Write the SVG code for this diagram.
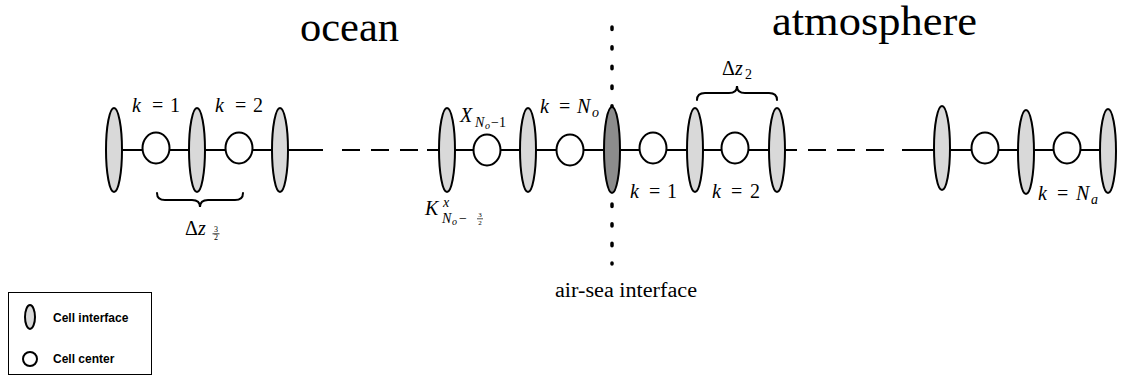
<svg xmlns="http://www.w3.org/2000/svg" width="1127" height="376" viewBox="0 0 1127 376">
<style>
.iface{fill:#d9d9d9;stroke:#000;stroke-width:2}
.dark{fill:#8c8c8c;stroke:#000;stroke-width:2}
.ctr{fill:#fff;stroke:#000;stroke-width:2}
.ln{stroke:#000;stroke-width:2;fill:none}
.dash{stroke:#000;stroke-width:2;fill:none;stroke-dasharray:18 11}
.brace{stroke:#000;stroke-width:2;fill:none;stroke-linecap:round}
.big{font-family:"Liberation Serif",serif;font-size:42px;fill:#000}
.m{font-family:"Liberation Serif",serif;font-size:20px;fill:#000}
.i{font-style:italic}
.s{font-size:14px}
.ss{font-size:10px}
.fr{font-size:8px}
.fr7{font-size:7px}
.lg{font-family:"Liberation Sans",Arial,sans-serif;font-size:12px;font-weight:bold;fill:#000}
</style>
<rect width="1127" height="376" fill="#fff"/>
<g id="connectors">
<line class="ln" x1="114" y1="150" x2="323" y2="150"/>
<line class="dash" x1="342" y1="150" x2="418" y2="150"/>
<line class="ln" x1="427" y1="150" x2="797" y2="150"/>
<line class="dash" x1="808" y1="150" x2="884" y2="150"/>
<line class="ln" x1="902" y1="150" x2="1108" y2="150"/>
<line x1="612" y1="27" x2="612" y2="264" stroke="#000" stroke-width="3.5" stroke-linecap="round" stroke-dasharray="2.4 17.27"/>
</g>
<g id="ocean-interfaces">
<ellipse id="oi1" class="iface" cx="114" cy="150" rx="8" ry="42"/>
<ellipse id="oi2" class="iface" cx="197" cy="150" rx="8" ry="42"/>
<ellipse id="oi3" class="iface" cx="280" cy="150" rx="8" ry="42"/>
<ellipse id="oi4" class="iface" cx="447" cy="150" rx="8" ry="42"/>
<ellipse id="oi5" class="iface" cx="528" cy="150" rx="8" ry="42"/>
</g>
<g id="air-sea"><ellipse class="dark" cx="612" cy="150" rx="8" ry="43"/></g>
<g id="atm-interfaces">
<ellipse id="ai1" class="iface" cx="695" cy="150" rx="8" ry="42"/>
<ellipse id="ai2" class="iface" cx="777" cy="150" rx="8" ry="42"/>
<ellipse id="ai3" class="iface" cx="942" cy="148" rx="8" ry="42"/>
<ellipse id="ai4" class="iface" cx="1026" cy="152" rx="8" ry="42"/>
<ellipse id="ai5" class="iface" cx="1108" cy="151" rx="8" ry="42"/>
</g>
<g id="centers">
<ellipse id="c1" class="ctr" cx="156" cy="148" rx="13.5" ry="15.5"/>
<ellipse id="c2" class="ctr" cx="239" cy="148" rx="13.5" ry="15.5"/>
<ellipse id="c3" class="ctr" cx="487" cy="150" rx="13.5" ry="15.5"/>
<ellipse id="c4" class="ctr" cx="570" cy="150" rx="13.5" ry="15.5"/>
<ellipse id="c5" class="ctr" cx="653" cy="148" rx="13.5" ry="15.5"/>
<ellipse id="c6" class="ctr" cx="735" cy="148" rx="13.5" ry="15.5"/>
<ellipse id="c7" class="ctr" cx="985" cy="148" rx="13.5" ry="15.5"/>
<ellipse id="c8" class="ctr" cx="1067" cy="148" rx="13.5" ry="15.5"/>
</g>
<g id="braces">
<path class="brace" d="M157,193 Q157,200 165,200 L192,200 Q200,200 200,207 Q200,200 208,200 L235,200 Q243,200 243,193"/>
<path class="brace" d="M697,100 Q697,93 705,93 L729,93 Q737,93 737,86 Q737,93 745,93 L769,93 Q777,93 777,100"/>
</g>
<g id="titles">
<text class="big" x="300" y="41" textLength="99" lengthAdjust="spacingAndGlyphs">ocean</text>
<text class="big" x="772" y="35" textLength="205" lengthAdjust="spacingAndGlyphs">atmosphere</text>
<text class="m" x="555" y="297" textLength="142" lengthAdjust="spacingAndGlyphs">air-sea interface</text>
</g>
<g id="labels">
<text class="m" y="112"><tspan class="i" x="132">k</tspan><tspan x="152">=</tspan><tspan x="170">1</tspan></text>
<text class="m" y="112"><tspan class="i" x="215">k</tspan><tspan x="235">=</tspan><tspan x="253">2</tspan></text>
<text class="m" y="235"><tspan x="185">Δ</tspan><tspan class="i" x="198">z</tspan></text>
<text class="m fr" x="216" y="232" text-anchor="middle">3</text>
<line x1="212.5" y1="233.8" x2="219.5" y2="233.8" stroke="#000" stroke-width="0.8"/>
<text class="m fr" x="216" y="240" text-anchor="middle">2</text>
<text class="m" y="122"><tspan class="i" x="460">X</tspan></text>
<text class="m s" y="127"><tspan class="i" x="475">N</tspan><tspan class="ss i" x="485" dy="2">o</tspan><tspan x="491" dy="-2">−1</tspan></text>
<text class="m" y="113"><tspan class="i" x="540">k</tspan><tspan x="559">=</tspan><tspan class="i" x="577">N</tspan><tspan class="s i" x="592" dy="4">o</tspan></text>
<text class="m" y="215"><tspan class="i" x="425">K</tspan></text>
<text class="m s i" x="443" y="207">x</text>
<text class="m s" y="223"><tspan class="i" x="442">N</tspan><tspan class="ss i" x="452" dy="2">o</tspan><tspan x="459" dy="-2">−</tspan></text>
<text class="m fr7" x="480" y="217" text-anchor="middle">3</text>
<line x1="477" y1="218.8" x2="483" y2="218.8" stroke="#000" stroke-width="0.7"/>
<text class="m fr7" x="480" y="225" text-anchor="middle">2</text>
<text class="m" y="198"><tspan class="i" x="630">k</tspan><tspan x="649">=</tspan><tspan x="667">1</tspan></text>
<text class="m" y="198"><tspan class="i" x="712">k</tspan><tspan x="731">=</tspan><tspan x="750">2</tspan></text>
<text class="m" y="75"><tspan x="722">Δ</tspan><tspan class="i" x="735">z</tspan><tspan class="s" x="745" dy="4">2</tspan></text>
<text class="m" y="200"><tspan class="i" x="1038">k</tspan><tspan x="1057">=</tspan><tspan class="i" x="1076">N</tspan><tspan class="s i" x="1091" dy="4">a</tspan></text>
</g>
<g id="legend">
<rect x="8.5" y="292.5" width="143" height="82" fill="#fff" stroke="#000" stroke-width="1"/>
<ellipse class="iface" cx="30" cy="317" rx="5" ry="12" stroke-width="1.8"/>
<text class="lg" x="53" y="322">Cell interface</text>
<circle class="ctr" cx="30" cy="359" r="7" stroke-width="1.8"/>
<text class="lg" x="53" y="363">Cell center</text>
</g>
</svg>
